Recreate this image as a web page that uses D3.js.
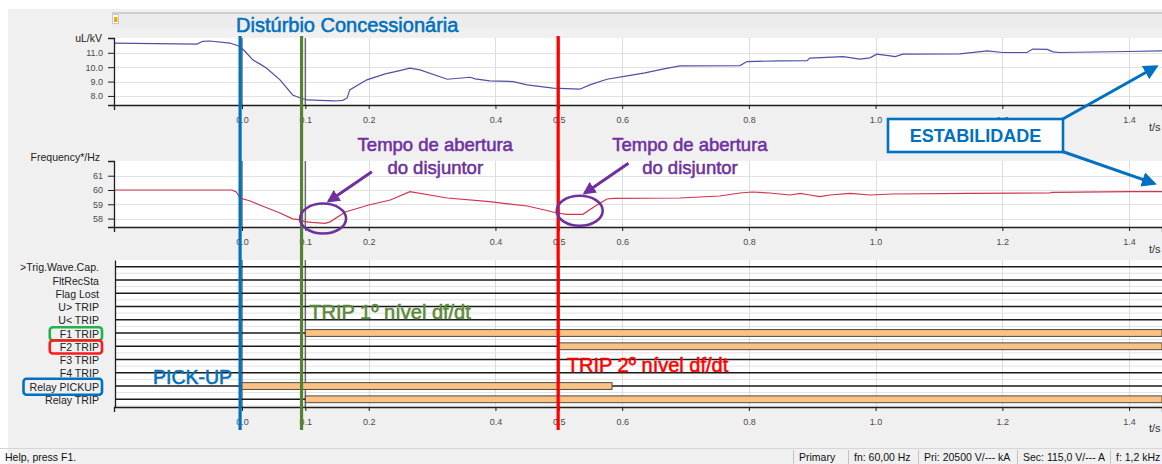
<!DOCTYPE html>
<html>
<head>
<meta charset="utf-8">
<script src="https://cdn.jsdelivr.net/npm/d3@7"></script>
<style>
  body { margin: 0; background: #ffffff; }
  svg { display: block; font-family: "Liberation Sans", Arial, sans-serif; }
</style>
</head>
<body>
<svg id="chart" width="1162" height="464"></svg>
<script>
// ---- Recorded data ---------------------------------------------------------
// Line voltage uL (kV) over time (s)
const voltageTime  = [-0.202,-0.071,-0.062,-0.051,-0.019,-0.003,0.005,0.017,0.028,0.039,0.060,0.080,0.092,0.103,0.123,0.147,0.159,0.166,0.170,0.197,0.226,0.249,0.265,0.281,0.324,0.360,0.368,0.391,0.428,0.450,0.491,0.533,0.549,0.576,0.608,0.636,0.664,0.691,0.786,0.797,0.849,0.892,0.896,0.949,0.975,0.991,1.002,1.023,1.031,1.043,1.133,1.176,1.201,1.239,1.248,1.271,1.280,1.291,1.397,1.452];
const voltageValue = [11.68,11.61,11.80,11.82,11.68,11.44,11.09,10.51,10.23,9.93,9.12,8.07,7.86,7.72,7.69,7.65,7.69,7.86,8.42,9.12,9.53,9.76,9.93,9.81,9.16,9.30,9.19,9.05,9.00,8.77,8.54,8.47,8.77,9.16,9.40,9.60,9.86,10.09,10.11,10.39,10.44,10.46,10.63,10.74,10.56,10.65,10.91,10.79,10.74,10.91,10.93,11.14,11.02,11.02,11.26,11.24,11.07,11.02,11.09,11.14];

// Measured frequency (Hz) over time (s)
const freqTime  = [-0.202,-0.016,-0.009,-0.003,0.013,0.036,0.060,0.080,0.092,0.099,0.110,0.131,0.139,0.163,0.200,0.234,0.265,0.324,0.391,0.450,0.478,0.497,0.513,0.538,0.560,0.576,0.586,0.691,0.754,0.786,0.805,0.833,0.865,0.881,0.896,0.912,0.928,0.960,0.991,1.027,1.149,1.275,1.278,1.402,1.452];
const freqValue = [60.00,60.00,59.86,59.44,59.23,58.81,58.39,57.98,57.91,57.79,57.73,57.66,57.77,58.46,58.95,59.30,59.88,59.44,59.18,58.88,58.60,58.39,58.30,58.30,58.95,59.37,59.42,59.44,59.58,59.79,59.86,59.79,59.65,59.76,59.65,59.53,59.65,59.76,59.65,59.72,59.76,59.79,59.83,59.88,59.88];

// Binary channels and their active intervals (s); null = never active
const channels     = [">Trig.Wave.Cap.", "FltRecSta", "Flag Lost", "U> TRIP", "U< TRIP", "F1 TRIP", "F2 TRIP", "F3 TRIP", "F4 TRIP", "Relay PICKUP", "Relay TRIP"];
const channelStart = [null, null, null, null, null, 0.1, 0.5, null, null, 0.0, 0.1];
const channelEnd   = [null, null, null, null, null, 1.452, 1.452, null, null, 0.584, 1.452];

// Axis ticks
const timeTicks    = [0.0, 0.1, 0.2, 0.4, 0.5, 0.6, 0.8, 1.0, 1.2, 1.4];
const gridTimes    = [0.2, 0.4, 0.6, 0.8, 1.0, 1.2, 1.4];
const cursorTimes  = [0.0, 0.1, 0.5];
const voltageTicks = [8, 9, 10, 11];
const freqTicks    = [58, 59, 60, 61];

// Event markers (disturbance, 1st-stage trip, 2nd-stage trip)
const eventTimes  = [-0.003, 0.094, 0.499];
const eventColors = ["#0070c0", "#548235", "#ff0000"];

// Status bar
const statusItems = ["Primary", "fn: 60,00 Hz", "Pri: 20500 V/--- kA", "Sec: 115,0 V/--- A", "f: 1,2 kHz"];

// ---- Layout ----------------------------------------------------------------
const W = 1162, H = 464;
const plotLeft = 114, plotRight = 1162;
const voltBox = { top: 38,  bottom: 105 };
const freqBox = { top: 161, bottom: 227 };
const digBox  = { top: 260, bottom: 407 };

const svg = d3.select("#chart");

const x  = d3.scaleLinear().domain([-0.202, 1.452]).range([plotLeft, plotRight]);
const yV = d3.scaleLinear().domain([7.37, 12.03]).range([voltBox.bottom, voltBox.top]);
const yF = d3.scaleLinear().domain([57.41, 62.03]).range([freqBox.bottom, freqBox.top]);
const yD = d3.scalePoint().domain(channels).range([266.7, 399.3]);

// background window
svg.append("rect").attr("x", 0).attr("y", 0).attr("width", W).attr("height", H).attr("fill", "#ffffff");
svg.append("rect").attr("x", 8).attr("y", 9).attr("width", W - 8).attr("height", H - 9).attr("fill", "#f0f0f0");

// toolbar strip with small marker icon
svg.append("rect").attr("x", 112).attr("y", 12).attr("width", W - 112).attr("height", 2).attr("fill", "#cfcfcf");
svg.append("rect").attr("x", 112).attr("y", 14).attr("width", W - 112).attr("height", 13).attr("fill", "#ececec");
svg.append("rect").attr("x", 112.5).attr("y", 14.5).attr("width", 6).attr("height", 9).attr("fill", "#fbfbfb").attr("stroke", "#c9c9c9");
svg.append("rect").attr("x", 114).attr("y", 17).attr("width", 3.5).attr("height", 5).attr("fill", "#f3a712");

// ---- Analog panel helper ---------------------------------------------------
function analogPanel(box, yScale, ticks, fmt, title, titleX, titleDy, times, values, color) {
  const g = svg.append("g");
  g.append("rect").attr("x", plotLeft).attr("y", box.top)
    .attr("width", plotRight - plotLeft).attr("height", box.bottom - box.top).attr("fill", "#ffffff");

  g.selectAll(".hg").data(ticks).join("line")
    .attr("x1", plotLeft).attr("x2", plotRight)
    .attr("y1", d => Math.round(yScale(d)) + 0.5).attr("y2", d => Math.round(yScale(d)) + 0.5)
    .attr("stroke", "#e2e2e2");
  g.selectAll(".vg").data(gridTimes).join("line")
    .attr("x1", d => Math.round(x(d)) + 0.5).attr("x2", d => Math.round(x(d)) + 0.5)
    .attr("y1", box.top).attr("y2", box.bottom)
    .attr("stroke", "#dcdcdc");
  g.selectAll(".cur").data(cursorTimes).join("line")
    .attr("x1", d => x(d)).attr("x2", d => x(d))
    .attr("y1", box.top).attr("y2", box.bottom)
    .attr("stroke", "#6b6b6b").attr("stroke-width", 1.5);

  const line = d3.line().x((d, i) => x(times[i])).y(d => yScale(d));
  g.append("path").datum(values).attr("d", line)
    .attr("fill", "none").attr("stroke", color).attr("stroke-width", 1.2);

  const ya = g.append("g").attr("transform", `translate(${plotLeft},0)`)
    .call(d3.axisLeft(yScale).tickValues(ticks).tickFormat(fmt).tickSize(6).tickSizeOuter(6).tickPadding(5));
  styleAxis(ya);

  const xa = g.append("g").attr("transform", `translate(0,${box.bottom})`)
    .call(d3.axisBottom(x).tickValues(timeTicks).tickFormat(d3.format(".1f")).tickSize(4).tickSizeOuter(5).tickPadding(8));
  styleAxis(xa);

  g.append("text").attr("x", titleX).attr("y", box.top + titleDy).attr("dy", "0.35em")
    .attr("text-anchor", "end").attr("font-size", 10.5).attr("fill", "#222").text(title);
  g.append("text").attr("x", 1149).attr("y", box.bottom + 22).attr("dy", "0.35em")
    .attr("font-size", 11).attr("fill", "#333").text("t/s");
}

function styleAxis(sel) {
  sel.select(".domain").attr("stroke", "#1e1e1e").attr("stroke-width", 1.3);
  sel.selectAll(".tick line").attr("stroke", "#1e1e1e");
  sel.selectAll(".tick text").attr("fill", "#4a4a4a").attr("font-size", 9)
    .attr("font-family", "'Liberation Sans', Arial, sans-serif");
}

analogPanel(voltBox, yV, voltageTicks, d3.format(".1f"), "uL/kV", 102, 0, voltageTime, voltageValue, "#4f4fa6");
analogPanel(freqBox, yF, freqTicks, d3.format("d"), "Frequency*/Hz", 100, -4, freqTime, freqValue, "#d2334f");

// ---- Binary channel panel --------------------------------------------------
const dg = svg.append("g");
dg.append("rect").attr("x", plotLeft + 1).attr("y", digBox.top)
  .attr("width", plotRight - plotLeft).attr("height", digBox.bottom - digBox.top).attr("fill", "#ffffff");
dg.selectAll(".sep").data(channels).join("line")
  .attr("x1", plotLeft + 1).attr("x2", plotRight)
  .attr("y1", d => yD(d) + 6.6).attr("y2", d => yD(d) + 6.6)
  .attr("stroke", "#e2e2e2");
dg.selectAll(".vg").data(gridTimes).join("line")
  .attr("x1", d => Math.round(x(d)) + 0.5).attr("x2", d => Math.round(x(d)) + 0.5)
  .attr("y1", digBox.top).attr("y2", digBox.bottom)
  .attr("stroke", "#dcdcdc");
dg.selectAll(".cur").data(cursorTimes).join("line")
  .attr("x1", d => x(d)).attr("x2", d => x(d))
  .attr("y1", digBox.top).attr("y2", digBox.bottom)
  .attr("stroke", "#6b6b6b").attr("stroke-width", 1.5);
dg.selectAll(".chan").data(channels).join("line")
  .attr("x1", plotLeft + 1).attr("x2", plotRight)
  .attr("y1", d => yD(d)).attr("y2", d => yD(d))
  .attr("stroke", "#1a1a1a").attr("stroke-width", 1.4);

const active = channels.map((c, i) => ({ c, s: channelStart[i], e: channelEnd[i] })).filter(d => d.s !== null);
dg.selectAll(".bar").data(active).join("rect")
  .attr("x", d => x(d.s)).attr("width", d => x(d.e) - x(d.s))
  .attr("y", d => yD(d.c) - 3.4).attr("height", 6.8)
  .attr("fill", "#fcc283").attr("stroke", "#4a4a4a").attr("stroke-width", 1);

const labels = dg.selectAll(".lab").data(channels).join("text")
  .attr("x", 99).attr("y", d => yD(d) + 1).attr("dy", "0.35em")
  .attr("text-anchor", "end").attr("font-size", 10.6).attr("fill", "#222").text(d => d);

const da = dg.append("g").attr("transform", `translate(0,${digBox.bottom})`)
  .call(d3.axisBottom(x).tickValues(timeTicks).tickFormat(d3.format(".1f")).tickSize(4).tickSizeOuter(5).tickPadding(8));
styleAxis(da);
const dl = dg.append("g").attr("transform", `translate(${plotLeft + 1},0)`)
  .call(d3.axisLeft(d3.scaleLinear().range([digBox.bottom, digBox.top])).tickValues([]).tickSizeOuter(0));
styleAxis(dl);
dg.append("text").attr("x", 1149).attr("y", digBox.bottom + 21).attr("dy", "0.35em")
  .attr("font-size", 11).attr("fill", "#333").text("t/s");

// highlighted channel names
const highlights = [
  { name: "F1 TRIP", color: "#1fb34a", padL: 10, padV: 0.5 },
  { name: "F2 TRIP", color: "#ff1a1a", padL: 10, padV: 0.5 },
  { name: "Relay PICKUP", color: "#0070c0", padL: 6, padV: 2 }
];
labels.each(function (d) {
  const h = highlights.find(k => k.name === d);
  if (!h) return;
  const b = this.getBBox();
  dg.append("rect")
    .attr("x", b.x - h.padL).attr("y", b.y - h.padV)
    .attr("width", b.width + h.padL + 3).attr("height", b.height + 2 * h.padV)
    .attr("rx", 3).attr("fill", "none").attr("stroke", h.color).attr("stroke-width", 2.6);
});

// ---- Event markers ---------------------------------------------------------
svg.selectAll(".evt").data(eventTimes).join("line")
  .attr("x1", d => x(d)).attr("x2", d => x(d))
  .attr("y1", 36).attr("y2", 430)
  .attr("stroke", (d, i) => eventColors[i]).attr("stroke-width", 3.2);

// ---- Annotations -----------------------------------------------------------
const ann = svg.append("g");
// annotation text gets a thin outline in its own colour for a heavier stroke
function heavy(sel, color) {
  return sel.attr("fill", color).attr("stroke", color).attr("stroke-width", 0.55);
}
heavy(ann.append("text").attr("x", x(eventTimes[0]) - 4).attr("y", 32)
  .attr("font-size", 20).text("Distúrbio Concessionária"), "#0070c0");

const purple = "#7030a0";
const defs = svg.append("defs");
function arrowMarker(id, color, size) {
  defs.append("marker").attr("id", id).attr("viewBox", "0 0 10 10")
    .attr("refX", 8).attr("refY", 5).attr("markerWidth", size).attr("markerHeight", size)
    .attr("markerUnits", "userSpaceOnUse").attr("orient", "auto")
    .append("path").attr("d", "M0,0L10,5L0,10Z").attr("fill", color);
}
arrowMarker("arrP", purple, 13);
arrowMarker("arrB", "#0070c0", 15);

const breakerNotes = [
  { t: 0.305, ct: 0.128, cf: 58.0,  tailT: 0.205, tailF: 61.27, headT: 0.137, headF: 59.22 },
  { t: 0.707, ct: 0.533, cf: 58.55, tailT: 0.610, tailF: 61.88, headT: 0.541, headF: 59.78 }
];
breakerNotes.forEach(n => {
  const tx = heavy(ann.append("text").attr("x", x(n.t)).attr("text-anchor", "middle")
    .attr("font-size", 18.5), purple);
  tx.append("tspan").attr("x", x(n.t)).attr("y", 151).text("Tempo de abertura");
  tx.append("tspan").attr("x", x(n.t)).attr("y", 174).text("do disjuntor");
  ann.append("ellipse").attr("cx", x(n.ct)).attr("cy", yF(n.cf)).attr("rx", 23).attr("ry", 15)
    .attr("fill", "none").attr("stroke", purple).attr("stroke-width", 2.6);
  ann.append("line").attr("x1", x(n.tailT)).attr("y1", yF(n.tailF))
    .attr("x2", x(n.headT)).attr("y2", yF(n.headF))
    .attr("stroke", purple).attr("stroke-width", 3).attr("marker-end", "url(#arrP)");
});

heavy(ann.append("text").attr("x", x(0.1) + 4).attr("y", 319)
  .attr("font-size", 20).text("TRIP 1º nível df/dt"), "#5a8a3a");
heavy(ann.append("text").attr("x", x(0.5) + 8).attr("y", 372)
  .attr("font-size", 20).text("TRIP 2º nível df/dt"), "#ff0000");
heavy(ann.append("text").attr("x", 153).attr("y", 384)
  .attr("font-size", 19.5).text("PICK-UP"), "#0070c0");

// stability call-out
const box = { x: 888, y: 119, w: 175, h: 33 };
ann.append("line").attr("x1", box.x + box.w - 2).attr("y1", box.y + 1)
  .attr("x2", 1156).attr("y2", yV(11.0) + 14)
  .attr("stroke", "#0070c0").attr("stroke-width", 3).attr("marker-end", "url(#arrB)");
ann.append("line").attr("x1", box.x + box.w - 2).attr("y1", box.y + box.h - 1)
  .attr("x2", 1154).attr("y2", yF(59.9) - 8)
  .attr("stroke", "#0070c0").attr("stroke-width", 3).attr("marker-end", "url(#arrB)");
ann.append("rect").attr("x", box.x).attr("y", box.y).attr("width", box.w).attr("height", box.h)
  .attr("fill", "#ffffff").attr("stroke", "#0070c0").attr("stroke-width", 2.6);
ann.append("text").attr("x", box.x + box.w / 2).attr("y", box.y + box.h / 2).attr("dy", "0.36em")
  .attr("text-anchor", "middle").attr("font-size", 18).attr("font-weight", "bold")
  .attr("fill", "#0070c0").text("ESTABILIDADE");

// ---- Status bar ------------------------------------------------------------
const sb = svg.append("g");
sb.append("line").attr("x1", 0).attr("x2", W).attr("y1", 448.5).attr("y2", 448.5).attr("stroke", "#d6d6d6");
sb.append("text").attr("x", 5).attr("y", 461).attr("font-size", 10.5).attr("fill", "#111").text("Help, press F1.");
const sepX = [793, 848, 918, 1017, 1110];
sb.selectAll(".sep").data(sepX).join("line")
  .attr("x1", d => d + 0.5).attr("x2", d => d + 0.5).attr("y1", 450).attr("y2", 464)
  .attr("stroke", "#c4c4c4");
sb.selectAll(".st").data(statusItems).join("text")
  .attr("x", (d, i) => sepX[i] + 6).attr("y", 461)
  .attr("font-size", 10.5).attr("fill", "#111").text(d => d);
</script>
</body>
</html>
